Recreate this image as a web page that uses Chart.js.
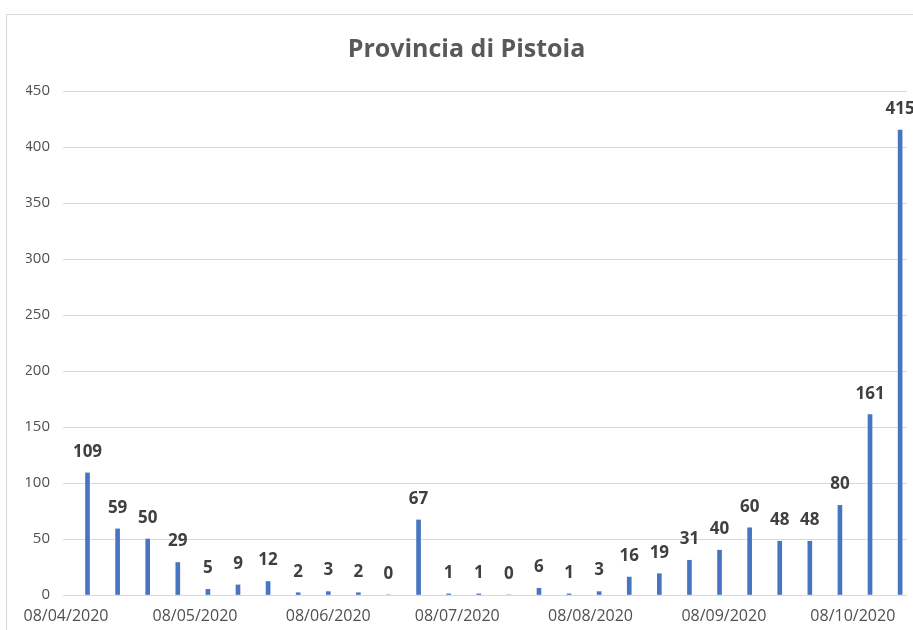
<!DOCTYPE html>
<html>
<head>
<meta charset="utf-8">
<script src="https://cdn.jsdelivr.net/npm/chart.js@4.4.1/dist/chart.umd.min.js"></script>
<style>
  body { margin: 0; background: #ffffff; }
  .frame { position: absolute; left: 6px; top: 14px; width: 930px; height: 640px; border: 1px solid #d9d9d9; }
  #wrap { position: absolute; left: 0; top: 0; width: 913px; height: 630px; }
</style>
</head>
<body>
<div class="frame"></div>
<div id="wrap"><canvas id="pistoiaChart" width="913" height="630"></canvas></div>
<script>
// weekly new cases, Provincia di Pistoia
const weekDates = [
    '2020-04-13', '2020-04-20', '2020-04-27', '2020-05-04', '2020-05-11', '2020-05-18', '2020-05-25',
    '2020-06-01', '2020-06-08', '2020-06-15', '2020-06-22', '2020-06-29', '2020-07-06', '2020-07-13',
    '2020-07-20', '2020-07-27', '2020-08-03', '2020-08-10', '2020-08-17', '2020-08-24', '2020-08-31',
    '2020-09-07', '2020-09-14', '2020-09-21', '2020-09-28', '2020-10-05', '2020-10-12', '2020-10-19'
];
const weeklyCases = [109, 59, 50, 29, 5, 9, 12, 2, 3, 2, 0, 67, 1, 1, 0, 6, 1, 3, 16, 19, 31, 40, 60, 48, 48, 80, 161, 415];
const tickDates = ['2020-04-08', '2020-05-08', '2020-06-08', '2020-07-08', '2020-08-08', '2020-09-08', '2020-10-08'];
const yTicks = [0, 50, 100, 150, 200, 250, 300, 350, 400, 450];

const DAY = 86400000;
const baseDate = Date.UTC(2020, 3, 8);
function toDay(s) {
    const p = s.split('-');
    return Math.round((Date.UTC(+p[0], +p[1] - 1, +p[2]) - baseDate) / DAY);
}
function fmtDay(v) {
    const d = new Date(baseDate + v * DAY);
    const dd = String(d.getUTCDate()).padStart(2, '0');
    const mm = String(d.getUTCMonth() + 1).padStart(2, '0');
    return dd + '/' + mm + '/' + d.getUTCFullYear();
}

const points = weekDates.map((d, i) => ({ x: toDay(d), y: weeklyCases[i] }));

// value labels above each bar
const valueLabels = {
    id: 'valueLabels',
    afterDatasetsDraw(chart) {
        const ctx = chart.ctx;
        const meta = chart.getDatasetMeta(0);
        ctx.save();
        ctx.font = 'bold 17px "Open Sans"';
        ctx.fillStyle = '#404040';
        ctx.textAlign = 'center';
        ctx.textBaseline = 'middle';
        meta.data.forEach((bar, i) => {
            ctx.fillText(String(weeklyCases[i]), bar.x, bar.y - 21);
        });
        ctx.restore();
    }
};

const ctx = document.getElementById('pistoiaChart').getContext('2d');
const pistoiaChart = new Chart(ctx, {
    type: 'bar',
    data: {
        datasets: [{
            data: points,
            backgroundColor: '#4775c2',
            barThickness: 4
        }]
    },
    options: {
        responsive: false,
        animation: false,
        layout: { padding: { left: 26, right: 6, top: 0, bottom: 0 } },
        scales: {
            x: {
                type: 'linear',
                offset: false,
                min: -0.7,
                max: 195.6,
                grid: { display: false },
                border: { display: false },
                afterBuildTicks(scale) {
                    scale.ticks = tickDates.map(d => ({ value: toDay(d) }));
                },
                afterFit(scale) { scale.height = 35; },
                ticks: {
                    color: '#505050',
                    font: { family: 'Open Sans', size: 16 },
                    padding: 4,
                    maxRotation: 0,
                    autoSkip: false,
                    callback: v => fmtDay(v)
                }
            },
            y: {
                min: 0,
                max: 450,
                afterBuildTicks(scale) {
                    scale.ticks = yTicks.map(v => ({ value: v }));
                },
                afterFit(scale) { scale.width = 37; },
                grid: { color: '#d9d9d9', lineWidth: 1, drawTicks: false },
                border: { display: false },
                ticks: {
                    color: '#505050',
                    font: { family: 'Open Sans', size: 15 },
                    padding: 13
                }
            }
        },
        plugins: {
            legend: { display: false },
            tooltip: { enabled: false },
            title: {
                display: true,
                text: 'Provincia di Pistoia',
                color: '#595959',
                font: { family: 'Open Sans', size: 25, weight: 'bold', lineHeight: 1.2 },
                padding: { top: 35, bottom: 26 }
            }
        }
    },
    plugins: [valueLabels]
});
</script>
</body>
</html>
